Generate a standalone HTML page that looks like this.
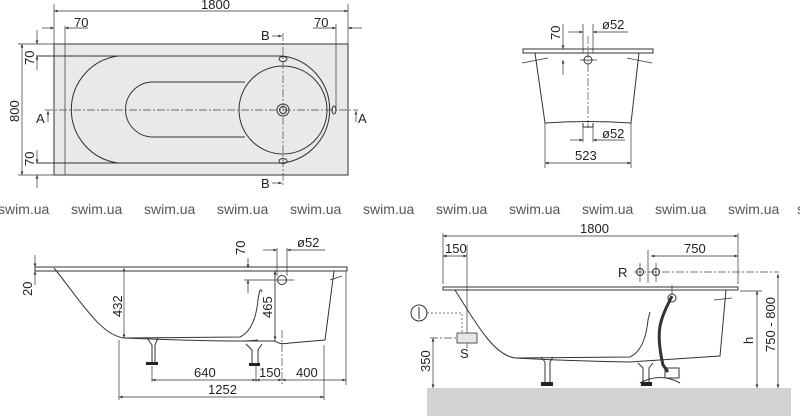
<!DOCTYPE html>
<html><head><meta charset="utf-8"><style>
body{margin:0;background:#fff}
svg{display:block}
text{font-family:"Liberation Sans",Arial,sans-serif;fill:#222}
.l{stroke:#333;stroke-width:1;fill:none}
.t{stroke:#333;stroke-width:0.7;fill:none}
.c{stroke:#444;stroke-width:0.7;fill:none;stroke-dasharray:8 2 2 2}
.w{font-size:14px;fill:#555}
</style></head><body>
<svg width="800" height="416" viewBox="0 0 800 416" xmlns="http://www.w3.org/2000/svg">
<defs><marker id="a" viewBox="0 0 10 10" refX="10" refY="5" markerWidth="7" markerHeight="5" orient="auto-start-reverse"><path d="M0,1 L10,5 L0,9z" fill="#333"/></marker></defs>

<!-- TOP VIEW -->
<rect x="54" y="44" width="294" height="131" fill="#e9e9eb" stroke="#333"/>
<line class="t" x1="65" y1="26" x2="65" y2="175"/>
<line class="t" x1="336" y1="24" x2="336" y2="110"/>
<path class="l" d="M36,56 H118 A54,54 0 0 0 118,163 H36"/>
<path class="l" d="M118,56 H283 A54,54 0 0 1 283,163 H118"/>
<circle class="l" cx="283" cy="110" r="44"/>
<path class="l" d="M245,82 H153 A27.5,27.5 0 0 0 153,137 H245"/>
<circle class="l" cx="283" cy="110" r="6"/><circle class="l" cx="283" cy="110" r="3.5"/>
<ellipse class="l" cx="283" cy="59" rx="4" ry="2.5"/><ellipse class="l" cx="283" cy="161" rx="4" ry="2.5"/>
<ellipse class="l" cx="334" cy="110" rx="2" ry="4"/>
<line class="c" x1="45" y1="110" x2="358" y2="110"/>
<line class="c" x1="283" y1="33" x2="283" y2="186"/>
<line class="t" x1="54" y1="4" x2="54" y2="44"/><line class="t" x1="348" y1="4" x2="348" y2="44"/>
<line class="t" x1="54" y1="11" x2="348" y2="11" marker-start="url(#a)" marker-end="url(#a)"/>
<text x="201" y="9" font-size="13">1800</text>
<line class="t" x1="42" y1="28" x2="54" y2="28" marker-end="url(#a)"/><line class="t" x1="88" y1="28" x2="65" y2="28" marker-end="url(#a)"/>
<text x="74" y="27" font-size="13">70</text>
<line class="t" x1="313" y1="28" x2="336" y2="28" marker-end="url(#a)"/><line class="t" x1="362" y1="28" x2="348" y2="28" marker-end="url(#a)"/>
<text x="314" y="27" font-size="13">70</text>
<line class="t" x1="18" y1="44" x2="54" y2="44"/><line class="t" x1="18" y1="175" x2="54" y2="175"/>
<line class="t" x1="22" y1="44" x2="22" y2="175" marker-start="url(#a)" marker-end="url(#a)"/>
<text transform="translate(19,122) rotate(-90)" font-size="13">800</text>
<line class="t" x1="37" y1="30" x2="37" y2="44" marker-end="url(#a)"/><line class="t" x1="37" y1="70" x2="37" y2="56" marker-end="url(#a)"/>
<text transform="translate(34,65) rotate(-90)" font-size="13">70</text>
<line class="t" x1="37" y1="150" x2="37" y2="163" marker-end="url(#a)"/><line class="t" x1="37" y1="188" x2="37" y2="175" marker-end="url(#a)"/>
<text transform="translate(34,166) rotate(-90)" font-size="13">70</text>
<text x="261" y="40" font-size="13">B</text><line class="t" x1="272" y1="36" x2="282" y2="36" marker-end="url(#a)"/>
<text x="261" y="188" font-size="13">B</text><line class="t" x1="272" y1="183" x2="282" y2="183" marker-end="url(#a)"/>
<text x="36" y="123" font-size="13">A</text><line class="t" x1="48" y1="122" x2="48" y2="111" marker-end="url(#a)"/>
<text x="358" y="123" font-size="13">A</text><line class="t" x1="356" y1="122" x2="356" y2="111" marker-end="url(#a)"/>

<!-- END VIEW -->
<path class="l" d="M523,49 H653 V53 H523 Z"/>
<path class="l" d="M535,53 L545,123 Q588,120 631,123 L639,53"/>
<line class="t" x1="522" y1="63" x2="548" y2="58"/><line class="t" x1="627" y1="58" x2="652" y2="63"/>
<line class="c" x1="588" y1="36" x2="588" y2="128"/>
<circle class="l" cx="588" cy="60" r="4"/>
<line class="t" x1="580" y1="60" x2="597" y2="60"/>
<line class="t" x1="583" y1="24" x2="583" y2="53"/><line class="t" x1="593" y1="24" x2="593" y2="53"/>
<line class="t" x1="568" y1="32" x2="583" y2="32" marker-end="url(#a)"/><line class="t" x1="628" y1="32" x2="593" y2="32" marker-end="url(#a)"/>
<text x="602" y="29" font-size="13">ø52</text>
<line class="t" x1="563" y1="24" x2="563" y2="49" marker-end="url(#a)"/><line class="t" x1="563" y1="75" x2="563" y2="60" marker-end="url(#a)"/>
<text transform="translate(560,40) rotate(-90)" font-size="13">70</text>
<path class="l" d="M583,123 V127 H593 V123"/>
<line class="t" x1="583" y1="125" x2="583" y2="142"/><line class="t" x1="593" y1="125" x2="593" y2="142"/>
<line class="t" x1="570" y1="140" x2="583" y2="140" marker-end="url(#a)"/><line class="t" x1="625" y1="140" x2="593" y2="140" marker-end="url(#a)"/>
<text x="602" y="138" font-size="13">ø52</text>
<line class="t" x1="545" y1="123" x2="545" y2="168"/><line class="t" x1="631" y1="123" x2="631" y2="168"/>
<line class="t" x1="545" y1="163" x2="631" y2="163" marker-start="url(#a)" marker-end="url(#a)"/>
<text x="575" y="160" font-size="13">523</text>

<!-- watermark -->
<g class="w">
<text x="-2" y="214" class="w">swim.ua</text><text x="71" y="214" class="w">swim.ua</text><text x="144" y="214" class="w">swim.ua</text><text x="217" y="214" class="w">swim.ua</text><text x="290" y="214" class="w">swim.ua</text><text x="363" y="214" class="w">swim.ua</text><text x="436" y="214" class="w">swim.ua</text><text x="509" y="214" class="w">swim.ua</text><text x="582" y="214" class="w">swim.ua</text><text x="655" y="214" class="w">swim.ua</text><text x="728" y="214" class="w">swim.ua</text><text x="797" y="214" class="w">s</text>
</g>

<!-- SIDE VIEW LEFT -->
<path class="l" d="M35,267 H347 V271 H35 Z"/>
<path class="l" d="M54,268 C80,300 100,335 124,338 L240,337 Q255,330 258,300 Q260,285 262,292"/>
<path class="l" d="M124,338 Q200,341 240,341 Q250,341 258,340"/>
<path class="l" d="M240,341 L275,341 Q280,345 290,343 L325,340 L334,271"/>
<line class="t" x1="330" y1="280" x2="342" y2="276"/>
<line class="t" x1="275" y1="271" x2="275" y2="342"/>
<circle class="l" cx="282" cy="280" r="4.5"/>
<line class="t" x1="244" y1="280" x2="294" y2="280"/>
<line class="t" x1="277" y1="248" x2="277" y2="276"/><line class="t" x1="287" y1="248" x2="287" y2="276"/>
<line class="t" x1="263" y1="250" x2="277" y2="250" marker-end="url(#a)"/><line class="t" x1="325" y1="250" x2="287" y2="250" marker-end="url(#a)"/>
<text x="297" y="247" font-size="13">ø52</text>
<line class="t" x1="248" y1="258" x2="248" y2="268" marker-end="url(#a)"/><line class="t" x1="248" y1="293" x2="248" y2="280" marker-end="url(#a)"/>
<text transform="translate(245,255) rotate(-90)" font-size="13">70</text>
<line class="t" x1="124" y1="268" x2="124" y2="338" marker-start="url(#a)" marker-end="url(#a)"/>
<text transform="translate(122,317) rotate(-90)" font-size="13">432</text>
<line class="t" x1="275" y1="271" x2="275" y2="340" marker-start="url(#a)" marker-end="url(#a)"/>
<text transform="translate(272,318) rotate(-90)" font-size="13">465</text>
<line class="t" x1="35" y1="255" x2="35" y2="267" marker-end="url(#a)"/><line class="t" x1="35" y1="285" x2="35" y2="271" marker-end="url(#a)"/>
<text transform="translate(32,296) rotate(-90)" font-size="13">20</text>
<path class="l" d="M147,338 L152,345 V362 M158,338 L155,345 V362"/><rect x="146" y="362" width="12" height="3" fill="#222"/>
<path class="l" d="M246,344 L252,350 V363 M262,344 L258,350 V363"/><rect x="249" y="363" width="11" height="3" fill="#222"/>
<line class="t" x1="152" y1="366" x2="152" y2="382"/><line class="t" x1="256" y1="366" x2="256" y2="382"/>
<line class="c" x1="282" y1="330" x2="282" y2="385"/>
<line class="t" x1="346" y1="272" x2="346" y2="385"/>
<line class="t" x1="119" y1="340" x2="119" y2="400"/><line class="t" x1="324" y1="345" x2="324" y2="400"/>
<line class="t" x1="152" y1="380" x2="256" y2="380" marker-start="url(#a)" marker-end="url(#a)"/>
<line class="t" x1="256" y1="380" x2="282" y2="380" marker-start="url(#a)" marker-end="url(#a)"/>
<line class="t" x1="282" y1="380" x2="346" y2="380" marker-start="url(#a)" marker-end="url(#a)"/>
<text x="194" y="377" font-size="13">640</text><text x="259" y="377" font-size="13">150</text><text x="296" y="377" font-size="13">400</text>
<line class="t" x1="119" y1="397" x2="324" y2="397" marker-start="url(#a)" marker-end="url(#a)"/>
<text x="208" y="394" font-size="13">1252</text>

<!-- SIDE VIEW RIGHT -->
<rect x="427" y="388" width="364" height="28" fill="#d2d2d4"/>
<path class="l" d="M443,287 H738 V290 H443 Z"/>
<path class="l" d="M455,290 C480,330 495,355 515,358 L630,357 Q645,350 648,320 L650,312"/>
<path class="l" d="M515,358 Q570,361 630,362 L720,356 L726,290"/>
<line class="t" x1="714" y1="300" x2="732" y2="298"/>
<path d="M672,296 C660,320 655,330 663,365 L668,372" stroke="#333" stroke-width="3" fill="none"/>
<circle class="l" cx="672" cy="298" r="4"/>
<line class="t" x1="672" y1="285" x2="672" y2="294"/>
<path class="l" d="M665,368 H679 V378 H665 Z M640,383 Q660,372 680,383"/>
<path class="l" d="M541,357 L545,362 V382 M553,357 L550,362 V382"/><rect x="541" y="382" width="12" height="4" fill="#222"/>
<path class="l" d="M638,363 L643,368 V382 M653,363 L649,368 V382"/><rect x="641" y="382" width="11" height="4" fill="#222"/>
<line class="t" x1="443" y1="233" x2="443" y2="284"/><line class="t" x1="738" y1="233" x2="738" y2="284"/>
<line class="t" x1="443" y1="236" x2="738" y2="236" marker-start="url(#a)" marker-end="url(#a)"/>
<text x="580" y="233" font-size="13">1800</text>
<line class="t" x1="467" y1="245" x2="467" y2="348"/>
<line class="t" x1="443" y1="256" x2="467" y2="256" marker-start="url(#a)" marker-end="url(#a)"/>
<text x="445" y="253" font-size="13">150</text>
<line class="t" x1="648" y1="250" x2="648" y2="283"/>
<line class="t" x1="651" y1="256" x2="738" y2="256" marker-start="url(#a)" marker-end="url(#a)"/>
<text x="684" y="253" font-size="13">750</text>
<text x="618" y="277" font-size="13">R</text>
<circle class="l" cx="640" cy="272" r="3.5"/><circle class="l" cx="656" cy="272" r="3.5"/>
<line class="t" x1="640" y1="263" x2="640" y2="282"/><line class="t" x1="656" y1="263" x2="656" y2="282"/>
<line class="c" x1="634" y1="272" x2="779" y2="272"/>
<circle class="l" cx="419" cy="313" r="8"/><line class="l" x1="419" y1="307" x2="419" y2="319"/>
<path d="M427,313 H462 V333" stroke="#444" stroke-width="0.7" stroke-dasharray="2 2" fill="none"/>
<rect x="457" y="333" width="20" height="10" fill="#e6e6e6" stroke="#333" stroke-width="0.8"/>
<text x="460" y="358" font-size="13">S</text>
<line class="c" x1="430" y1="338" x2="458" y2="338"/>
<line class="t" x1="433" y1="338" x2="433" y2="388" marker-start="url(#a)" marker-end="url(#a)"/>
<text transform="translate(430,372) rotate(-90)" font-size="13">350</text>
<line class="t" x1="740" y1="291" x2="762" y2="291"/>
<line class="t" x1="757" y1="291" x2="757" y2="388" marker-start="url(#a)" marker-end="url(#a)"/>
<text transform="translate(753,344) rotate(-90)" font-size="13">h</text>
<line class="t" x1="778" y1="274" x2="778" y2="388" marker-start="url(#a)" marker-end="url(#a)"/>
<text transform="translate(775,352) rotate(-90)" font-size="13">750 - 800</text>
</svg>
</body></html>
